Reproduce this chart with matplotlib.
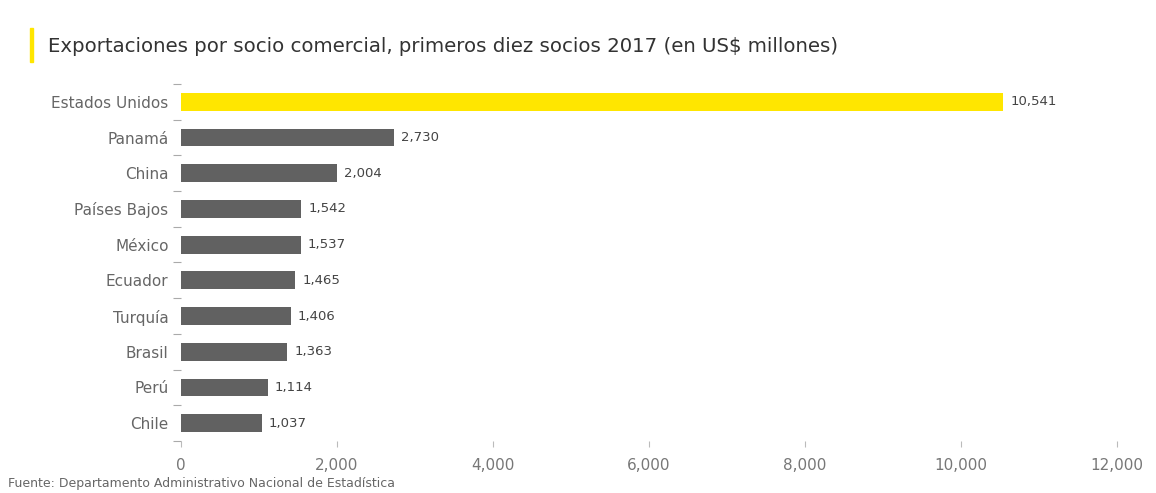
import matplotlib.pyplot as plt
import numpy as np

paises = ['Estados Unidos', 'Panamá', 'China', 'Países Bajos', 'México',
          'Ecuador', 'Turquía', 'Brasil', 'Perú', 'Chile']
valores = [10541, 2730, 2004, 1542, 1537, 1465, 1406, 1363, 1114, 1037]
xticks = [0, 2000, 4000, 6000, 8000, 10000, 12000]

amarillo = '#FFE600'
gris = '#616161'
colores = [amarillo] + [gris] * (len(paises) - 1)

fig = plt.figure(figsize=(11.56, 4.93), dpi=100)
ax = fig.add_axes([0.1566, 0.1055, 0.8097, 0.7241])

y = np.arange(len(paises))
bars = ax.barh(y, valores, height=0.5, color=colores)
ax.bar_label(bars, labels=[f'{v:,}' for v in valores], padding=5,
             fontsize=9.5, color='#444444')

ax.set_ylim(len(paises) - 0.5, -0.5)
ax.set_xlim(0, 12000)
ax.set_yticks(y)
ax.set_yticklabels(paises, fontsize=11, color='#666666')
ax.tick_params(axis='y', which='major', length=0, pad=9)
ax.set_yticks(np.arange(-0.5, len(paises)), minor=True)
ax.tick_params(axis='y', which='minor', length=6, color='#aaaaaa', width=0.8)

ax.set_xticks(xticks)
ax.set_xticklabels([f'{t:,}' for t in xticks], fontsize=11, color='#777777')
ax.tick_params(axis='x', length=4, color='#bbbbbb', pad=8)

for s in ax.spines.values():
    s.set_visible(False)

# title with yellow marker
fig.patches.append(plt.Rectangle((30 / 1156, 1 - 62 / 493), 3 / 1156, 34 / 493,
                                 transform=fig.transFigure, color=amarillo))
fig.text(48 / 1156, 1 - 46 / 493,
         'Exportaciones por socio comercial, primeros diez socios 2017 (en US$ millones)',
         fontsize=14.2, color='#333333', va='center', ha='left')
fig.text(8 / 1156, 1 - 484 / 493,
         'Fuente: Departamento Administrativo Nacional de Estadística',
         fontsize=9, color='#666666', va='center', ha='left')

plt.savefig('out.png', dpi=100)
